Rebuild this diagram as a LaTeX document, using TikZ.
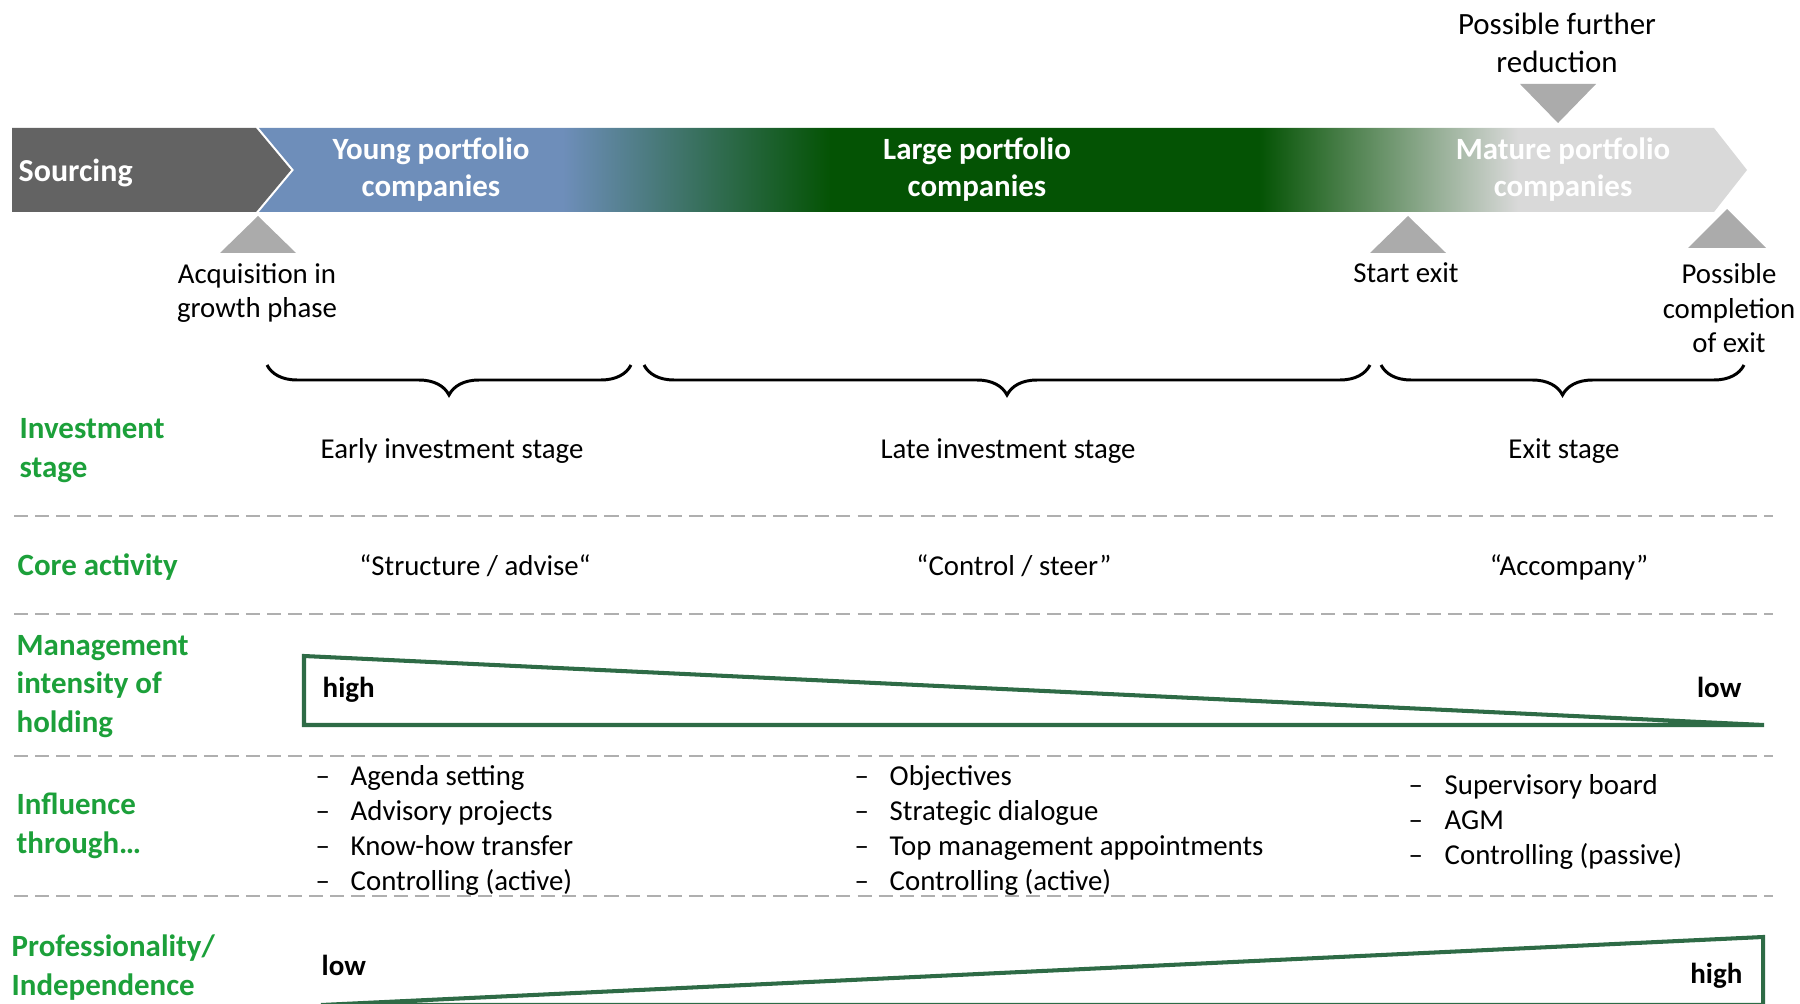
\documentclass[tikz,border=0pt]{standalone}
\usepackage{fontspec}
\setmainfont{Carlito}
\usetikzlibrary{decorations.pathreplacing}
\definecolor{srcgray}{HTML}{636363}
\definecolor{youngblue}{HTML}{6E8EBA}
\definecolor{largegreen}{HTML}{045304}
\definecolor{maturegray}{HTML}{D9D9D9}
\definecolor{lblgreen}{HTML}{1CA03A}
\definecolor{wedgegreen}{HTML}{2E6B46}
\definecolor{markgray}{HTML}{ABABAB}
\definecolor{sepgray}{HTML}{AFAFAF}
\pgfdeclarehorizontalshading{barshade}{100bp}{color(0bp)=(youngblue); color(35.2bp)=(youngblue); color(44.2bp)=(largegreen); color(58.6bp)=(largegreen); color(67.3bp)=(maturegray); color(100bp)=(maturegray)}

\begin{document}
\begin{tikzpicture}[x=0.1mm,y=-0.1mm,
  txt/.style={font=\fontsize{8.2}{9.95}\selectfont, inner sep=0pt, align=center},
  toptxt/.style={font=\fontsize{8.8}{10.95}\selectfont, inner sep=0pt, align=center},
  bartxt/.style={font=\fontsize{8.8}{10.8}\selectfont\bfseries, text=white, inner sep=0pt, align=center},
  rowlbl/.style={font=\fontsize{8.8}{10.95}\selectfont\bfseries, text=lblgreen, inner sep=0pt, align=left},
  hilo/.style={font=\fontsize{8.25}{10}\selectfont\bfseries, inner sep=0pt},
  marker/.style={fill=markgray},
  brc/.style={decorate, decoration={brace, mirror, amplitude=3mm}, line width=0.85pt},
  sepline/.style={sepgray, line width=0.7pt, dash pattern=on 4pt off 2pt},
  wedge/.style={wedgegreen, line width=1.15pt}]
\useasboundingbox (0,0) rectangle (1800,1004);

%banner
\fill[srcgray] (12,128) -- (256,128) -- (291,170) -- (256,212) -- (12,212) -- cycle;
\shade[shading=barshade] (259,128) -- (1714,128) -- (1747,170) -- (1714,212) -- (259,212) -- (294,170) -- cycle;
\node[bartxt, font=\fontsize{9.1}{11}\selectfont\bfseries, anchor=base west] (src) at (18,182) {Sourcing};
% base of a wrapped node = its last line
\node[bartxt, anchor=base] (young) at (431,197) {Young portfolio\\companies};
\node[bartxt, anchor=base] (large) at (977,197) {Large portfolio\\companies};
\node[bartxt, anchor=base] (mature) at (1563,197) {Mature portfolio\\companies};

%milestones
\fill[marker] (220,253) -- (258,216) -- (296,253) -- cycle;
\fill[marker] (1370,253) -- (1408,216) -- (1446,253) -- cycle;
\fill[marker] (1688,248) -- (1727,209) -- (1766,248) -- cycle;
\fill[marker] (1520,84) -- (1558,123) -- (1596,84) -- cycle;
\node[toptxt, anchor=base] (reduce) at (1557,73) {Possible further\\reduction};
\node[txt, anchor=base] (acq) at (257,318) {Acquisition in\\growth phase};
\node[txt, anchor=base] (startexit) at (1406,283) {Start exit};
\node[txt, anchor=base] (complexit) at (1729,353) {Possible\\completion\\of exit};

%braces
\draw[brc] (267,365) -- (631,365);
\draw[brc] (644,365) -- (1370,365);
\draw[brc] (1381,365) -- (1744,365);

%separators
\foreach \y in {516,614,756,896}{
\draw[sepline] (14,\y) -- (1773,\y);
}

%row labels
\node[rowlbl, anchor=base west] (invest) at (19,477) {Investment\\stage};
\node[rowlbl, anchor=base west] (core) at (17,575) {Core activity};
\node[rowlbl, anchor=base west] (mgmt) at (16,732) {Management\\intensity of\\holding};
\node[rowlbl, anchor=base west] (influence) at (16,853) {Influence\\through…};
\node[rowlbl, anchor=base west] (prof) at (11,995) {Professionality/\\Independence};

%stages and core activity
\node[txt, anchor=base] (early) at (452,459) {Early investment stage};
\node[txt, anchor=base] (late) at (1008,459) {Late investment stage};
\node[txt, anchor=base] (exit) at (1564,459) {Exit stage};
\node[txt, anchor=base] (advise) at (475,575) {“Structure / advise“};
\node[txt, anchor=base] (steer) at (1014,575) {“Control / steer”};
\node[txt, anchor=base] (accompany) at (1569,575) {“Accompany”};

%management intensity
\draw[wedge] (304,656) -- (1764,725) -- (304,725) -- cycle;
\node[hilo, anchor=base west] (mhigh) at (322,697) {high};
\node[hilo, anchor=base east] (mlow) at (1742,697) {low};

%influence
\foreach \itm [count=\i] in {Agenda setting,Advisory projects,Know-how transfer,Controlling (active)}{
\node[txt, anchor=base west] (early-dash\i) at (315,750+35*\i) {–};
\node[txt, anchor=base west] (early-item\i) at (350,750+35*\i) {\itm};
}
\foreach \itm [count=\i] in {Objectives,Strategic dialogue,Top management appointments,Controlling (active)}{
\node[txt, anchor=base west] (late-dash\i) at (854,750+35*\i) {–};
\node[txt, anchor=base west] (late-item\i) at (889,750+35*\i) {\itm};
}
\foreach \itm [count=\i] in {Supervisory board,AGM,Controlling (passive)}{
\node[txt, anchor=base west] (exit-dash\i) at (1408,759+35*\i) {–};
\node[txt, anchor=base west] (exit-item\i) at (1444,759+35*\i) {\itm};
}

%professionality
\draw[wedge] (321,1005) -- (1763,937) -- (1763,1005) -- cycle;
\node[hilo, anchor=base west] (plow) at (321,975) {low};
\node[hilo, anchor=base east] (phigh) at (1743,983) {high};
\end{tikzpicture}
\end{document}
